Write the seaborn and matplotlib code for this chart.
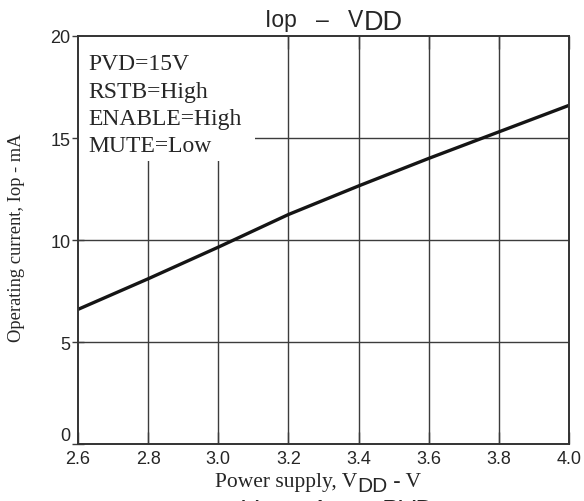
import numpy as np
import pandas as pd
import matplotlib
matplotlib.use("Agg")
import matplotlib.pyplot as plt
import seaborn as sns

# data
vdd = [2.6, 2.8, 3.0, 3.2, 3.4, 3.6, 3.8, 4.0]
iop = [6.6, 8.1, 9.65, 11.25, 12.65, 14.0, 15.3, 16.6]
x_ticks = [2.6, 2.8, 3.0, 3.2, 3.4, 3.6, 3.8, 4.0]
y_ticks = [0, 5, 10, 15, 20]
conditions = ["PVD=15V", "RSTB=High", "ENABLE=High", "MUTE=Low"]

df = pd.DataFrame({"vdd": vdd, "iop": iop})

sns.set_style("white")
plt.rcParams["font.family"] = ["Liberation Sans", "DejaVu Sans"]

SERIF = ["Liberation Serif", "DejaVu Serif"]
SANS = ["Liberation Sans", "DejaVu Sans"]
GRID = "#3c3c3c"

fig = plt.figure(figsize=(5.84, 5.02), dpi=100)
ax = fig.add_axes([0.1336, 0.1135, 0.8407, 0.8128])

# grid drawn by hand so the condition box can sit on top of it
ax.vlines(x_ticks[1:-1], y_ticks[0], y_ticks[-1], colors=GRID, lw=1.0, zorder=1)
ax.hlines(y_ticks[1:-1], x_ticks[0], x_ticks[-1], colors=GRID, lw=1.0, zorder=1)

sns.lineplot(data=df, x="vdd", y="iop", color="#151515", lw=2.4, ax=ax, zorder=2)

ax.set_xlim(x_ticks[0], x_ticks[-1])
ax.set_ylim(y_ticks[0], y_ticks[-1])
ax.set_xticks(x_ticks)
ax.set_xticklabels([f"{v:.1f}" for v in x_ticks])
ax.set_yticks(y_ticks)
ax.set_xlabel("")
ax.set_ylabel("")

for s in ax.spines.values():
    s.set_color("#333333")
    s.set_linewidth(1.4)

ax.tick_params(axis="x", direction="in", length=9, width=1.0, color=GRID,
               labelsize=13, pad=4, top=True, bottom=True)
ax.tick_params(axis="y", direction="inout", length=9, width=1.0, color=GRID,
               labelsize=13, pad=1, left=True, right=False)
# the "0" sits just above the corner, clear of "2.6"
ax.get_yticklabels()[0].set_va("bottom")

# white box behind the operating conditions
ax.add_patch(plt.Rectangle((0, 0.694), 0.36, 0.306, transform=ax.transAxes,
                           fc="white", ec="none", zorder=1.5))
ax.text(0.022, 0.958, "\n".join(conditions), transform=ax.transAxes,
        ha="left", va="top", family=SERIF, size=17, linespacing=1.4, zorder=3)

# title  Iop - VDD  (DD set a little lower and larger)
t1 = fig.text(265 / 584, 1 - 27 / 502, "Iop   \u2013   V", family=SANS, size=16.5,
              ha="left", va="baseline")
ax.annotate("DD", xy=(1, 0), xycoords=t1, xytext=(0, -3), textcoords="offset points",
            ha="left", va="bottom", family=SANS, size=19.5, annotation_clip=False)

# x label  Power supply, VDD - V
x1 = fig.text(215 / 584, 1 - 487 / 502, "Power supply, V", family=SERIF, size=15.5,
              ha="left", va="baseline")
x2 = ax.annotate("DD", xy=(1, 0), xycoords=x1, xytext=(0, -3), textcoords="offset points",
                 ha="left", va="bottom", family=SANS, size=15, annotation_clip=False)
ax.annotate(" - V", xy=(1, 0), xycoords=x2, xytext=(0, 3), textcoords="offset points",
            ha="left", va="bottom", family=SERIF, size=15.5, annotation_clip=False)

# y label
fig.text(17 / 584, 1 - 238 / 502, "Operating current, Iop - mA", family=SERIF, size=13.3,
         rotation=90, ha="center", va="center")

# title of the next chart, cut off by the bottom edge
fig.text(242 / 584, 1 - 518 / 502, "Vo  \u2013  Av      PVD", family=SANS, size=18,
         ha="left", va="baseline")

fig.savefig("out.png", dpi=100)
